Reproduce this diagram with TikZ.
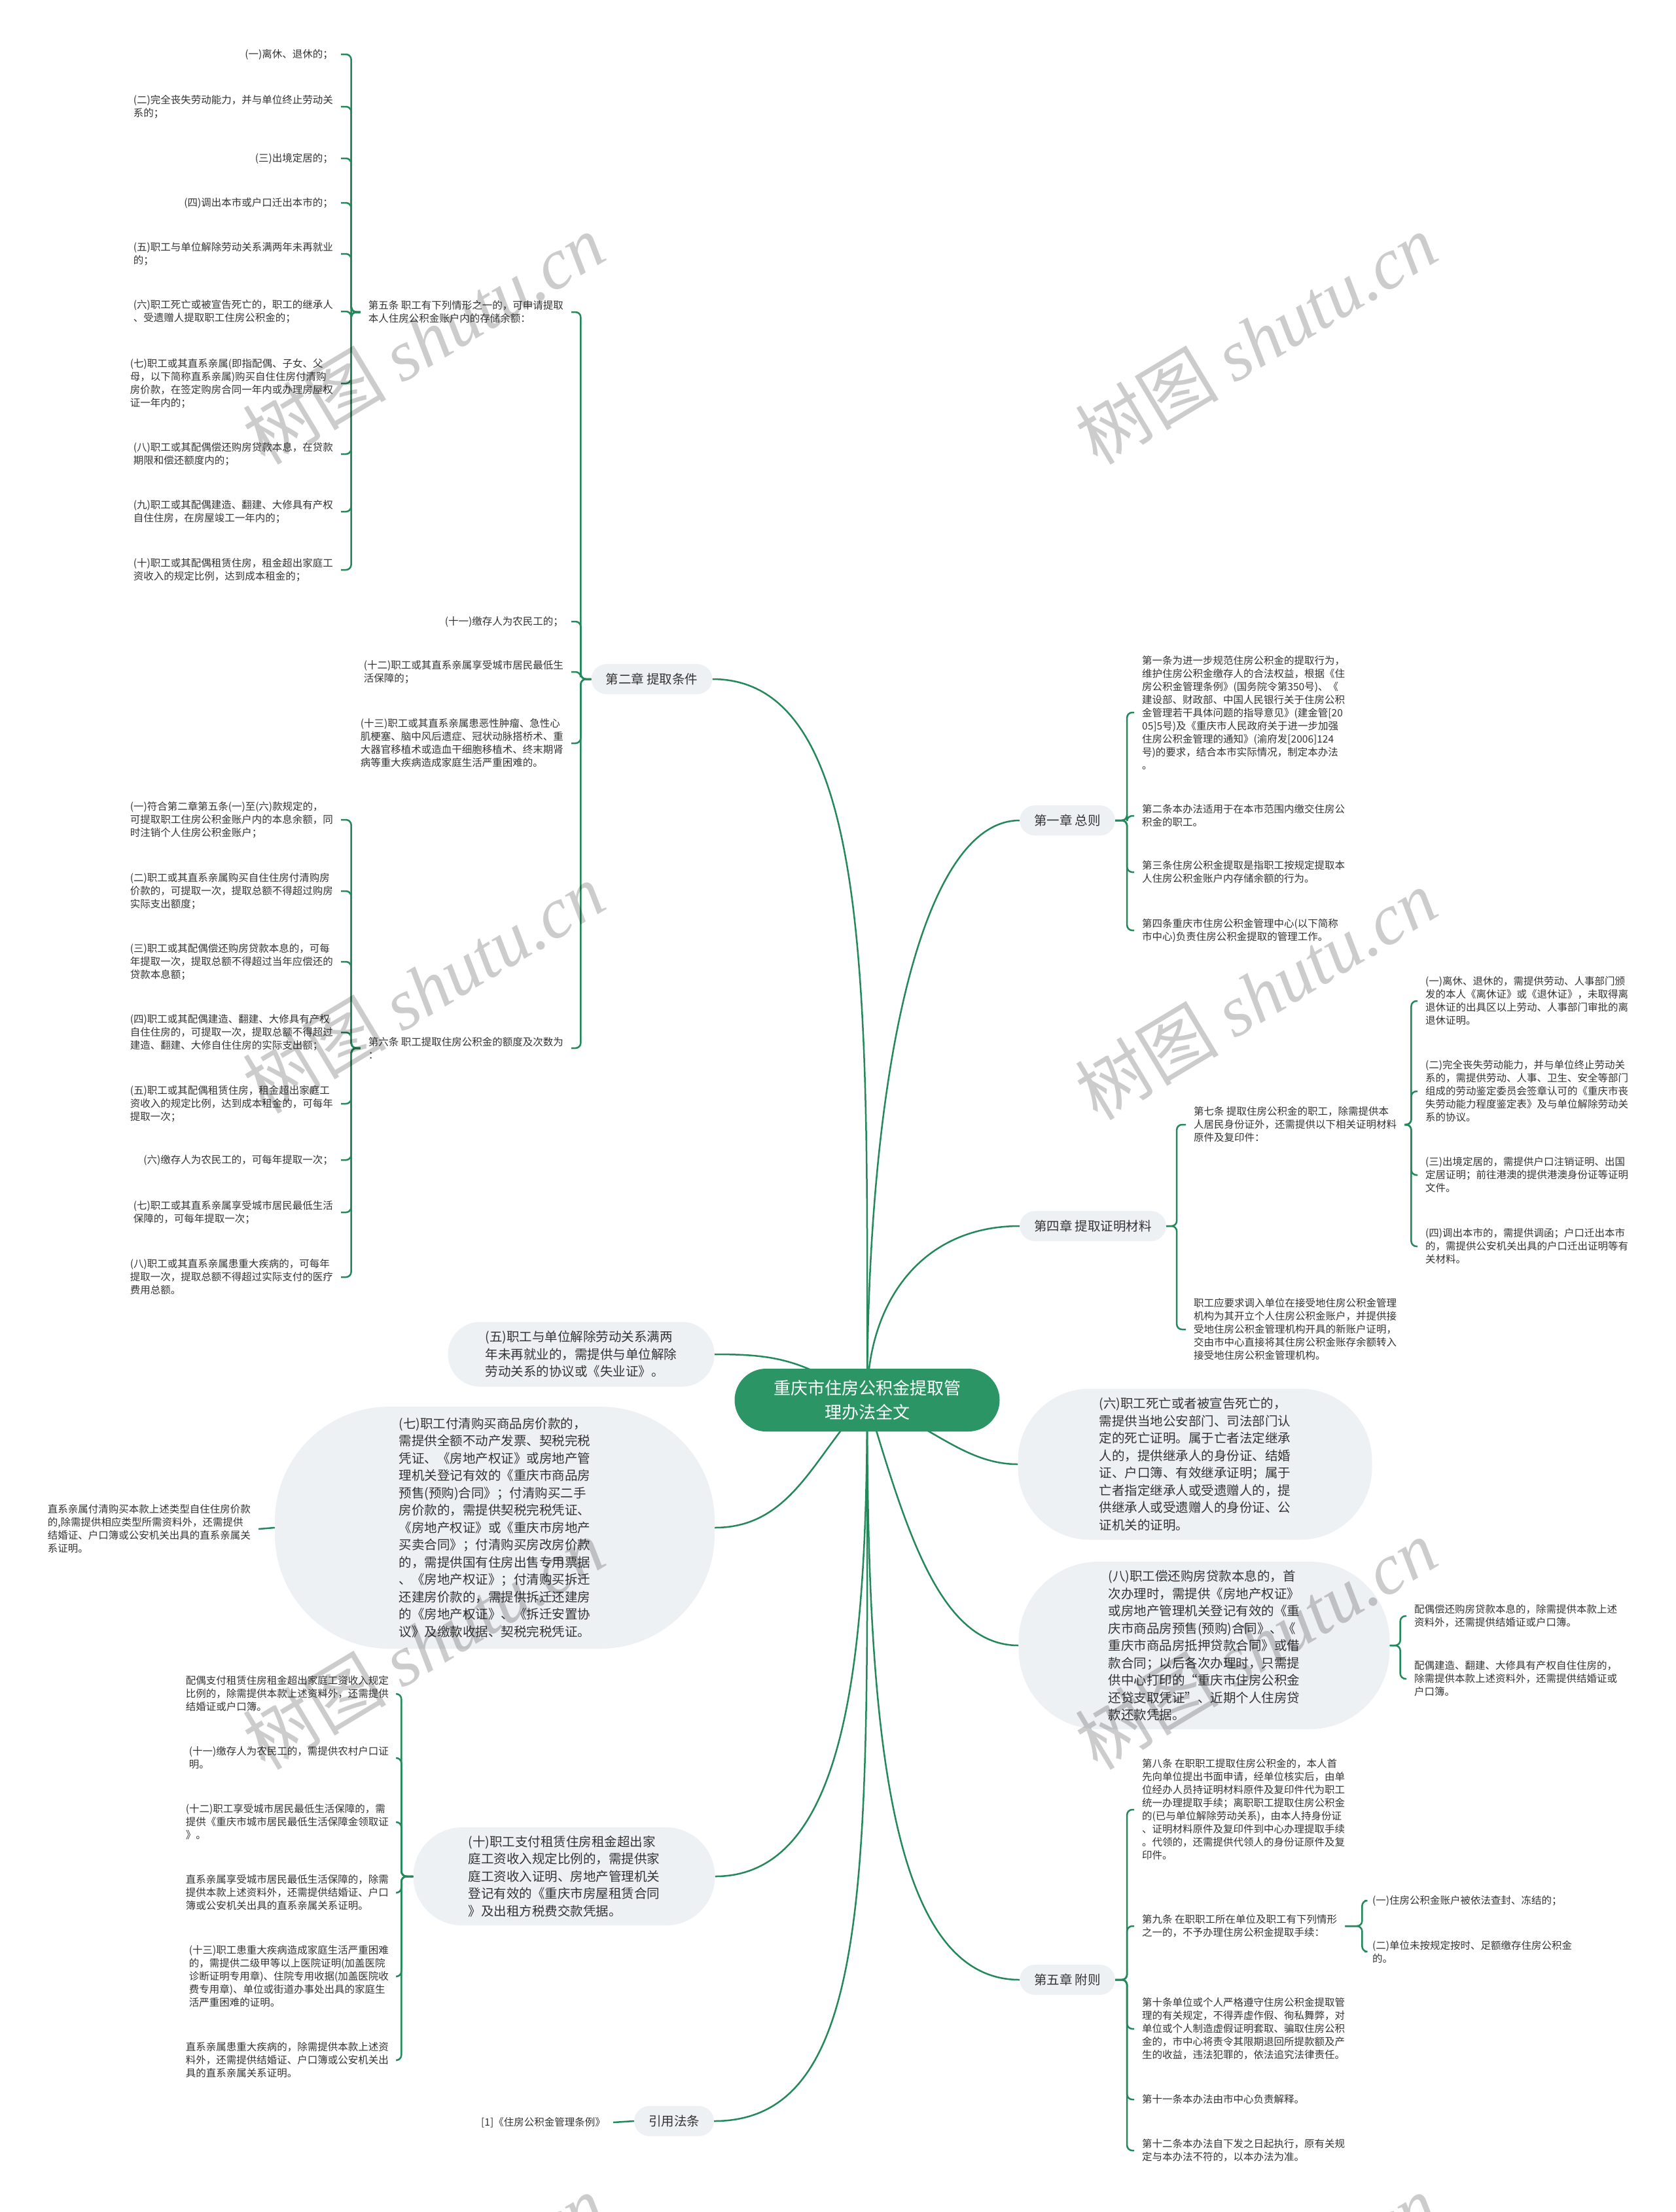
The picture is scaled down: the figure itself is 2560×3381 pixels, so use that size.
\documentclass[tikz,border=0pt]{standalone}
\usepackage{fontspec}
\setmainfont{Noto Sans CJK SC}
\newfontfamily\wmfont{Liberation Serif}
\usepackage{tikz}
\usetikzlibrary{positioning,backgrounds}
\definecolor{lnk}{HTML}{23885A}
\definecolor{rootfill}{HTML}{2B9565}
\definecolor{pill}{HTML}{EEF1F4}
\definecolor{txt}{HTML}{333333}

\begin{document}
\begin{tikzpicture}[x=1pt,y=-1pt,
		leafnode/.style={font=\fontsize{15.5}{20}\selectfont,align=left,inner xsep=12pt,inner ysep=2pt,text=txt},
		lleaf/.style={leafnode,anchor=east},
		rleaf/.style={leafnode,anchor=west},
		chapnode/.style={fill=pill,rounded corners=23pt,minimum height=46pt,inner xsep=22pt,font=\fontsize{19.5}{26}\selectfont,text=txt},
		bubblenode/.style={fill=pill,align=left,font=\fontsize{19.5}{26.5}\selectfont,text=txt},
		brlink/.style={draw=lnk,line width=2.5pt,rounded corners=8pt},
		mainlink/.style={draw=lnk,line width=2.5pt},
		wmark/.style={rotate=31,text=black,opacity=0.2,font=\fontsize{110}{110}\selectfont}]
	\useasboundingbox (0,0) rectangle (2560,3381);

	\node[fill=rootfill,rounded corners=48pt,minimum width=405pt,minimum height=96pt,align=center,text=white,font=\fontsize{26}{37}\selectfont] (root) at (1325,2140) {重庆市住房公积金提取管\\理办法全文};

	\node[chapnode] (ch2) at (996,1038) {第二章 提取条件};
	\node[chapnode] (ch1) at (1631,1254) {第一章 总则};
	\node[chapnode] (ch4) at (1670,1874) {第四章 提取证明材料};
	\node[chapnode] (ch5) at (1631,3026) {第五章 附则};
	\node[chapnode] (cite) at (1030,3242) {引用法条};

	\node[bubblenode,minimum width=407pt,minimum height=99pt,rounded corners=49pt] (bub5) at (888,2070) {(五)职工与单位解除劳动关系满两\\年未再就业的，需提供与单位解除\\劳动关系的协议或《失业证》。};
	\node[bubblenode,minimum width=541pt,minimum height=231pt,rounded corners=110pt] (bub6) at (1826,2238) {(六)职工死亡或者被宣告死亡的，\\需提供当地公安部门、司法部门认\\定的死亡证明。属于亡者法定继承\\人的，提供继承人的身份证、结婚\\证、户口簿、有效继承证明；属于\\亡者指定继承人或受遗赠人的，提\\供继承人或受遗赠人的身份证、公\\证机关的证明。};
	\node[bubblenode,minimum width=672pt,minimum height=370pt,rounded corners=175pt] (bub7) at (756,2335) {(七)职工付清购买商品房价款的，\\需提供全额不动产发票、契税完税\\凭证、《房地产权证》或房地产管\\理机关登记有效的《重庆市商品房\\预售(预购)合同》；付清购买二手\\房价款的，需提供契税完税凭证、\\《房地产权证》或《重庆市房地产\\买卖合同》；付清购买房改房价款\\的，需提供国有住房出售专用票据\\、《房地产权证》；付清购买拆迁\\还建房价款的，需提供拆迁还建房\\的《房地产权证》、《拆迁安置协\\议》及缴款收据、契税完税凭证。};
	\node[bubblenode,minimum width=567pt,minimum height=256pt,rounded corners=122pt] (bub8) at (1840,2515) {(八)职工偿还购房贷款本息的，首\\次办理时，需提供《房地产权证》\\或房地产管理机关登记有效的《重\\庆市商品房预售(预购)合同》、《\\重庆市商品房抵押贷款合同》或借\\款合同；以后各次办理时，只需提\\供中心打印的“重庆市住房公积金\\还贷支取凭证”、近期个人住房贷\\款还款凭据。};
	\node[bubblenode,minimum width=461pt,minimum height=150pt,rounded corners=75pt] (bub10) at (862,2868) {(十)职工支付租赁住房租金超出家\\庭工资收入规定比例的，需提供家\\庭工资收入证明、房地产管理机关\\登记有效的《重庆市房屋租赁合同\\》及出租方税费交款凭据。};

	\node[lleaf] (art5) at (873,477) {第五条 职工有下列情形之一的，可申请提取\\本人住房公积金账户内的存储余额：};
	\node[lleaf] (t11) at (873,950) {(十一)缴存人为农民工的；};
	\node[lleaf] (t12) at (873,1027) {(十二)职工或其直系亲属享受城市居民最低生\\活保障的；};
	\node[lleaf] (t13) at (873,1136) {(十三)职工或其直系亲属患恶性肿瘤、急性心\\肌梗塞、脑中风后遗症、冠状动脉搭桥术、重\\大器官移植术或造血干细胞移植术、终末期肾\\病等重大疾病造成家庭生活严重困难的。};
	\node[lleaf] (art6) at (873,1602) {第六条 职工提取住房公积金的额度及次数为\\：};

	\node[lleaf] (n5a) at (521,83) {(一)离休、退休的；};
	\node[lleaf] (n5b) at (521,163) {(二)完全丧失劳动能力，并与单位终止劳动关\\系的；};
	\node[lleaf] (n5c) at (521,242) {(三)出境定居的；};
	\node[lleaf] (n5d) at (521,310) {(四)调出本市或户口迁出本市的；};
	\node[lleaf] (n5e) at (521,388) {(五)职工与单位解除劳动关系满两年未再就业\\的；};
	\node[lleaf] (n5f) at (521,476) {(六)职工死亡或被宣告死亡的，职工的继承人\\、受遗赠人提取职工住房公积金的；};
	\node[lleaf] (n5g) at (521,586) {(七)职工或其直系亲属(即指配偶、子女、父\\母，以下简称直系亲属)购买自住住房付清购\\房价款，在签定购房合同一年内或办理房屋权\\证一年内的；};
	\node[lleaf] (n5h) at (521,694) {(八)职工或其配偶偿还购房贷款本息，在贷款\\期限和偿还额度内的；};
	\node[lleaf] (n5i) at (521,782) {(九)职工或其配偶建造、翻建、大修具有产权\\自住住房，在房屋竣工一年内的；};
	\node[lleaf] (n5j) at (521,871) {(十)职工或其配偶租赁住房，租金超出家庭工\\资收入的规定比例，达到成本租金的；};

	\node[lleaf] (n6a) at (521,1253) {(一)符合第二章第五条(一)至(六)款规定的，\\可提取职工住房公积金账户内的本息余额，同\\时注销个人住房公积金账户；};
	\node[lleaf] (n6b) at (521,1362) {(二)职工或其直系亲属购买自住住房付清购房\\价款的，可提取一次，提取总额不得超过购房\\实际支出额度；};
	\node[lleaf] (n6c) at (521,1470) {(三)职工或其配偶偿还购房贷款本息的，可每\\年提取一次，提取总额不得超过当年应偿还的\\贷款本息额；};
	\node[lleaf] (n6d) at (521,1578) {(四)职工或其配偶建造、翻建、大修具有产权\\自住住房的，可提取一次，提取总额不得超过\\建造、翻建、大修自住住房的实际支出额；};
	\node[lleaf] (n6e) at (521,1687) {(五)职工或其配偶租赁住房，租金超出家庭工\\资收入的规定比例，达到成本租金的，可每年\\提取一次；};
	\node[lleaf] (n6f) at (521,1773) {(六)缴存人为农民工的，可每年提取一次；};
	\node[lleaf] (n6g) at (521,1853) {(七)职工或其直系亲属享受城市居民最低生活\\保障的，可每年提取一次；};
	\node[lleaf] (n6h) at (521,1952) {(八)职工或其直系亲属患重大疾病的，可每年\\提取一次，提取总额不得超过实际支付的医疗\\费用总额。};

	\node[rleaf] (c1a) at (1733,1089) {第一条为进一步规范住房公积金的提取行为，\\维护住房公积金缴存人的合法权益，根据《住\\房公积金管理条例》(国务院令第350号)、《\\建设部、财政部、中国人民银行关于住房公积\\金管理若干具体问题的指导意见》(建金管[20\\05]5号)及《重庆市人民政府关于进一步加强\\住房公积金管理的通知》(渝府发[2006]124\\号)的要求，结合本市实际情况，制定本办法\\。};
	\node[rleaf] (c1b) at (1733,1247) {第二条本办法适用于在本市范围内缴交住房公\\积金的职工。};
	\node[rleaf] (c1c) at (1733,1333) {第三条住房公积金提取是指职工按规定提取本\\人住房公积金账户内存储余额的行为。};
	\node[rleaf] (c1d) at (1733,1422) {第四条重庆市住房公积金管理中心(以下简称\\市中心)负责住房公积金提取的管理工作。};

	\node[rleaf] (art7) at (1812,1719) {第七条 提取住房公积金的职工，除需提供本\\人居民身份证外，还需提供以下相关证明材料\\原件及复印件：};
	\node[rleaf] (c4b) at (1812,2032) {职工应要求调入单位在接受地住房公积金管理\\机构为其开立个人住房公积金账户，并提供接\\受地住房公积金管理机构开具的新账户证明，\\交由市中心直接将其住房公积金账存余额转入\\接受地住房公积金管理机构。};
	\node[rleaf] (c7a) at (2166,1530) {(一)离休、退休的，需提供劳动、人事部门颁\\发的本人《离休证》或《退休证》，未取得离\\退休证的出具区以上劳动、人事部门审批的离\\退休证明。};
	\node[rleaf] (c7b) at (2166,1668) {(二)完全丧失劳动能力，并与单位终止劳动关\\系的，需提供劳动、人事、卫生、安全等部门\\组成的劳动鉴定委员会签章认可的《重庆市丧\\失劳动能力程度鉴定表》及与单位解除劳动关\\系的协议。};
	\node[rleaf] (c7c) at (2166,1796) {(三)出境定居的，需提供户口注销证明、出国\\定居证明；前往港澳的提供港澳身份证等证明\\文件。};
	\node[rleaf] (c7d) at (2166,1905) {(四)调出本市的，需提供调函；户口迁出本市\\的，需提供公安机关出具的户口迁出证明等有\\关材料。};

	\node[rleaf] (b8a) at (2149,2470) {配偶偿还购房贷款本息的，除需提供本款上述\\资料外，还需提供结婚证或户口簿。};
	\node[rleaf] (b8b) at (2149,2566) {配偶建造、翻建、大修具有产权自住住房的，\\除需提供本款上述资料外，还需提供结婚证或\\户口簿。};

	\node[lleaf] (b7a) at (395,2337) {直系亲属付清购买本款上述类型自住住房价款\\的,除需提供相应类型所需资料外，还需提供\\结婚证、户口簿或公安机关出具的直系亲属关\\系证明。};

	\node[lleaf] (b10a) at (606,2589) {配偶支付租赁住房租金超出家庭工资收入规定\\比例的，除需提供本款上述资料外，还需提供\\结婚证或户口簿。};
	\node[lleaf] (b10b) at (606,2687) {(十一)缴存人为农民工的，需提供农村户口证\\明。};
	\node[lleaf] (b10c) at (606,2785) {(十二)职工享受城市居民最低生活保障的，需\\提供《重庆市城市居民最低生活保障金领取证\\》。};
	\node[lleaf] (b10d) at (606,2893) {直系亲属享受城市居民最低生活保障的，除需\\提供本款上述资料外，还需提供结婚证、户口\\簿或公安机关出具的直系亲属关系证明。};
	\node[lleaf] (b10e) at (606,3021) {(十三)职工患重大疾病造成家庭生活严重困难\\的，需提供二级甲等以上医院证明(加盖医院\\诊断证明专用章)、住院专用收据(加盖医院收\\费专用章)、单位或街道办事处出具的家庭生\\活严重困难的证明。};
	\node[lleaf] (b10f) at (606,3149) {直系亲属患重大疾病的，除需提供本款上述资\\料外，还需提供结婚证、户口簿或公安机关出\\具的直系亲属关系证明。};

	\node[rleaf] (c5a) at (1733,2766) {第八条 在职职工提取住房公积金的，本人首\\先向单位提出书面申请，经单位核实后，由单\\位经办人员持证明材料原件及复印件代为职工\\统一办理提取手续；离职职工提取住房公积金\\的(已与单位解除劳动关系)，由本人持身份证\\、证明材料原件及复印件到中心办理提取手续\\。代领的，还需提供代领人的身份证原件及复\\印件。};
	\node[rleaf] (art9) at (1733,2944) {第九条 在职职工所在单位及职工有下列情形\\之一的，不予办理住房公积金提取手续：};
	\node[rleaf] (c5c) at (1733,3101) {第十条单位或个人严格遵守住房公积金提取管\\理的有关规定，不得弄虚作假、徇私舞弊，对\\单位或个人制造虚假证明套取、骗取住房公积\\金的，市中心将责令其限期退回所提款额及产\\生的收益，违法犯罪的，依法追究法律责任。};
	\node[rleaf] (c5d) at (1733,3209) {第十一条本办法由市中心负责解释。};
	\node[rleaf] (c5e) at (1733,3287) {第十二条本办法自下发之日起执行，原有关规\\定与本办法不符的，以本办法为准。};
	\node[rleaf] (c9a) at (2085,2905) {(一)住房公积金账户被依法查封、冻结的；};
	\node[rleaf] (c9b) at (2085,2983) {(二)单位未按规定按时、足额缴存住房公积金\\的。};

	\node[lleaf] (ref1) at (937,3244) {[1]《住房公积金管理条例》};

	\begin{scope}[on background layer]
		\draw[mainlink] (root.center) .. controls +(0,-600) and +(250,0) .. (ch2.east);
		\draw[mainlink] (root.center) .. controls +(0,-500) and +(-150,0) .. (ch1.west);
		\draw[mainlink] (root.center) .. controls +(0,-150) and +(-150,0) .. (ch4.west);
		\draw[mainlink] (root.center) .. controls +(-100,-60) and +(100,0) .. (bub5.east);
		\draw[mainlink] (root.center) .. controls +(100,40) and +(-80,0) .. (bub6.west);
		\draw[mainlink] (root.center) .. controls +(-80,80) and +(120,0) .. (bub7.east);
		\draw[mainlink] (root.center) .. controls +(60,200) and +(-120,0) .. (bub8.west);
		\draw[mainlink] (root.center) .. controls +(0,400) and +(200,0) .. (bub10.east);
		\draw[mainlink] (root.center) .. controls +(0,500) and +(-200,0) .. (ch5.west);
		\draw[mainlink] (root.center) .. controls +(0,700) and +(250,0) .. (cite.east);
	\end{scope}

	\foreach \c in {art5,t11,t12,t13,art6}
		\draw[brlink] (ch2.west) -- ++(-16,0) |- (\c.east);
	\foreach \c in {n5a,n5b,n5c,n5d,n5e,n5f,n5g,n5h,n5i,n5j}
		\draw[brlink] (art5.west) -- ++(-14,0) |- (\c.east);
	\foreach \c in {n6a,n6b,n6c,n6d,n6e,n6f,n6g,n6h}
		\draw[brlink] (art6.west) -- ++(-14,0) |- (\c.east);
	\foreach \c in {c1a,c1b,c1c,c1d}
		\draw[brlink] (ch1.east) -- ++(18,0) |- (\c.west);
	\foreach \c in {art7,c4b}
		\draw[brlink] (ch4.east) -- ++(16,0) |- (\c.west);
	\foreach \c in {c7a,c7b,c7c,c7d}
		\draw[brlink] (art7.east) -- ++(10,0) |- (\c.west);
	\foreach \c in {b8a,b8b}
		\draw[brlink] (bub8.east) -- ++(16,0) |- (\c.west);
	\foreach \c in {b10a,b10b,b10c,b10d,b10e,b10f}
		\draw[brlink] (bub10.west) -- ++(-18,0) |- (\c.east);
	\foreach \c in {c5a,art9,c5c,c5d,c5e}
		\draw[brlink] (ch5.east) -- ++(18,0) |- (\c.west);
	\foreach \c in {c9a,c9b}
		\draw[brlink] (art9.east) -- ++(26,0) |- (\c.west);
	\draw[mainlink] (bub7.west) -- (b7a.east);
	\draw[mainlink] (cite.west) -- (ref1.east);

	\foreach \wx/\wy in {647/518,1919/518,647/1510,1919/1520,647/2513,1919/2513,647/3515,1919/3515}
		\node[wmark] at (\wx,\wy) {树图 {\wmfont\itshape shutu.cn}};
\end{tikzpicture}
\end{document}
